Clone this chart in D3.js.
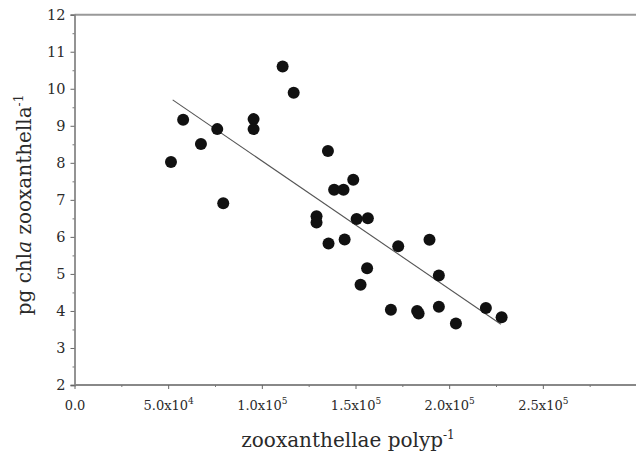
<!DOCTYPE html>
<html><head><meta charset="utf-8">
<script src="https://cdn.jsdelivr.net/npm/d3@7"></script>
<style>body{margin:0;background:#fff}svg{display:block}</style>
</head><body>
<svg id="c" width="636" height="455"></svg>
<script>
// Data
const xValues = [51500,58000,67500,76200,79400,95600,95600,111100,117000,135300,138600,143600,148800,129200,129200,150600,156600,135600,144200,172800,189500,156200,152700,194500,168900,182900,183700,194500,203600,219600,228000];
const yValues = [8.02,9.16,8.51,8.91,6.91,9.18,8.91,10.60,9.89,8.32,7.27,7.27,7.54,6.56,6.39,6.48,6.50,5.82,5.93,5.75,5.92,5.15,4.71,4.96,4.03,4.00,3.93,4.11,3.66,4.08,3.83];
const fitX = [52400, 227600];
const fitY = [9.70, 3.64];
const xTicks = [0, 50000, 100000, 150000, 200000, 250000];
const xTickLabels = [["0.0",""],["5.0x10","4"],["1.0x10","5"],["1.5x10","5"],["2.0x10","5"],["2.5x10","5"]];
const xMinor = [25000, 75000, 125000, 175000, 225000, 275000];
const yTicks = [2,3,4,5,6,7,8,9,10,11,12];
const yMinor = [2.5,3.5,4.5,5.5,6.5,7.5,8.5,9.5,10.5,11.5];

const svg = d3.select("#c");
const serif = "'DejaVu Serif', 'Liberation Serif', serif";
const x = d3.scaleLinear().domain([0, 300000]).range([74.5, 636.5]);
const y = d3.scaleLinear().domain([2, 12]).range([385, 14.7]);

// top frame line
svg.append("line").attr("x1", 74.5).attr("x2", 636).attr("y1", y(12)).attr("y2", y(12))
  .attr("stroke", "#999").attr("stroke-width", 2);

// y axis
const yAxis = svg.append("g").attr("transform", "translate(74.5,0)")
  .call(d3.axisLeft(y).tickValues(yTicks).tickSize(4).tickPadding(5).tickFormat(d3.format("d")));
yAxis.select(".domain").attr("stroke", "#888").attr("stroke-width", 1.8);
yAxis.selectAll(".tick line").attr("stroke", "#666");
yAxis.selectAll("text").attr("font-family", serif).attr("font-size", 14.5).attr("fill", "#2a2a2a");
svg.append("g").attr("transform", "translate(74.5,0)")
  .call(d3.axisLeft(y).tickValues(yMinor).tickSize(2).tickFormat(""))
  .call(g => { g.select(".domain").remove(); g.selectAll("line").attr("stroke", "#777"); });

// x axis
const xAxis = svg.append("g").attr("transform", `translate(0,${y(2)})`)
  .call(d3.axisBottom(x).tickValues(xTicks).tickSize(4).tickPadding(8).tickFormat(""));
xAxis.select(".domain").attr("stroke", "#888").attr("stroke-width", 1.8).attr("d", `M74.5,0H636`);
xAxis.selectAll(".tick line").attr("stroke", "#666");
xAxis.selectAll(".tick text").each(function(d, i) {
  const t = d3.select(this).attr("font-family", serif).attr("font-size", 13).attr("fill", "#2a2a2a").attr("dy", null).attr("y", 25);
  t.append("tspan").text(xTickLabels[i][0]);
  if (xTickLabels[i][1]) t.append("tspan").attr("font-size", 9).attr("dy", -6).text(xTickLabels[i][1]);
});
svg.append("g").attr("transform", `translate(0,${y(2)})`)
  .call(d3.axisBottom(x).tickValues(xMinor).tickSize(2).tickFormat(""))
  .call(g => { g.select(".domain").remove(); g.selectAll("line").attr("stroke", "#777"); });

// regression line
svg.append("line")
  .attr("x1", x(fitX[0])).attr("y1", y(fitY[0]))
  .attr("x2", x(fitX[1])).attr("y2", y(fitY[1]))
  .attr("stroke", "#555").attr("stroke-width", 1.1);

// points
svg.append("g").selectAll("circle").data(xValues).join("circle")
  .attr("cx", d => x(d)).attr("cy", (d, i) => y(yValues[i])).attr("r", 6).attr("fill", "#111");

// axis titles
const xt = svg.append("text").attr("x", 348).attr("y", 446.5).attr("text-anchor", "middle")
  .attr("font-family", serif).attr("font-size", 20).attr("fill", "#2a2a2a");
xt.append("tspan").text("zooxanthellae polyp");
xt.append("tspan").attr("font-size", 12).attr("dy", -8).text("-1");

const yt = svg.append("text").attr("transform", "translate(30.5,205) rotate(-90)").attr("text-anchor", "middle")
  .attr("font-family", serif).attr("font-size", 20).attr("fill", "#2a2a2a");
yt.append("tspan").text("pg chl");
yt.append("tspan").attr("font-style", "italic").text("a");
yt.append("tspan").text(" zooxanthella");
yt.append("tspan").attr("font-size", 12).attr("dy", -8).text("-1");
</script>
</body></html>
